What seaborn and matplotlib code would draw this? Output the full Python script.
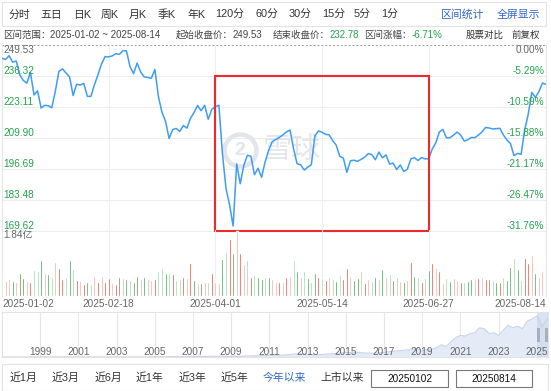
import numpy as np
import pandas as pd
import matplotlib
import matplotlib.pyplot as plt
from matplotlib.patches import Rectangle
from matplotlib.transforms import blended_transform_factory
import seaborn as sns

sns.set_style('white')
plt.rcParams['font.family'] = ['Liberation Sans', 'Noto Sans CJK SC', 'DejaVu Sans']

# 收盘价（2025-01-02 ~ 2025-08-14，逐日）
close = [
    243.85, 243.36, 245.00, 242.21, 242.70, 236.85, 234.40, 233.28, 237.87, 228.26,
    229.98, 222.64, 223.83, 223.66, 222.78, 229.86, 238.26, 239.36, 237.59, 236.00,
    228.01, 232.80, 232.47, 233.22, 227.63, 227.65, 232.62, 236.87, 241.53, 244.60,
    244.47, 244.87, 245.83, 245.55, 247.10, 247.04, 240.36, 237.30, 241.84,
    238.03, 235.93, 235.74, 235.33, 239.07, 227.48, 220.84, 216.98, 209.68, 213.49,
    214.00, 212.69, 215.24, 214.10, 218.27, 220.73, 223.75, 221.53, 223.85, 217.90, 222.13,
    223.19, 223.89, 203.19, 188.38, 181.46, 172.42, 198.85, 190.42, 198.15, 202.52,
    202.14, 194.27, 196.98, 193.16, 199.74, 204.60, 208.37, 209.28, 210.14, 211.21, 212.50,
    213.32, 205.35, 198.89, 198.51, 196.25, 197.49, 198.53, 210.79, 212.93, 212.33,
    211.45, 211.26, 208.78, 206.86, 202.09, 201.36, 195.27, 200.21, 200.42, 199.95, 200.85,
    201.70, 203.27, 202.82, 200.63, 203.92, 201.45, 202.67, 198.78, 199.20, 196.45,
    198.42, 195.64, 196.58, 201.00, 201.50, 200.30, 201.56, 201.00, 201.08, 205.17,
    207.82, 212.44, 213.55, 209.95, 210.01, 211.14, 212.41, 211.16, 208.62, 209.11,
    210.16, 210.02, 211.18, 212.48, 214.40, 214.15, 213.76, 213.88, 214.05, 211.27,
    209.05, 207.57,
    202.38, 203.35, 202.92, 213.25, 220.03, 229.35, 227.18, 229.65, 233.33, 232.78,
]

# 成交量（百万股）
volume = [
    57, 42, 47, 42, 38, 63, 51, 42, 40, 72, 70, 99, 65, 61, 54, 96, 78, 47, 54, 101,
    75, 45, 42, 33, 40, 33, 56, 40, 56, 40, 51, 36, 33, 52, 51, 47, 45, 40, 57, 48,
    54, 47, 45, 47, 71, 78, 63, 63, 61, 45, 47, 54,
    50, 93, 45, 36, 36, 38, 40, 65, 38, 36, 103, 124, 160, 120, 180, 121, 89, 100,
    52, 59, 52, 48, 52, 52, 48, 38, 38, 38, 52, 57, 100, 70, 52, 70, 50, 38, 65, 52,
    50, 45, 54, 48, 43, 59, 48, 78, 57, 45, 51, 71, 36,
    48, 43, 54, 48, 74, 54, 62, 45, 52, 43, 40, 45, 96, 57, 54, 40, 50, 73, 91, 79,
    70, 36, 50, 43, 50, 45, 40, 40, 42, 48, 48, 50, 52, 48, 48, 45, 40, 38, 52, 45,
    82, 105, 75, 45, 107, 91, 113, 63, 54, 70, 52,
]

# 柱子颜色：R 深红 r 浅红 G 深绿 g 浅绿
bar_codes = list(
    'GrrGrGRgRggGrGgrRRgGgRrRGgrRrRRrRGrGgGRgGrrRggGgRggR'
    'rRGrGrgRrrGgRGrRrgRgGGrGrrRrRrgGrgGgGRgRgrGgRRrGGrR'
    'rgGrGrgRgrGrRGgRgGRrRrgGrrRgGGgRrRGgGRgGGgGgRRrGrrr'
)
bar_palette = {'R': '#e8391f', 'r': '#f2a292', 'G': '#1f9d3d', 'g': '#8fd3a0'}

# 坐标刻度
price_ticks = [249.53, 236.32, 223.11, 209.90, 196.69, 183.48, 170.27]
price_labels = ['249.53', '236.32', '223.11', '209.90', '196.69', '183.48', '169.62']
pct_labels = ['0.00%', '-5.29%', '-10.59%', '-15.88%', '-21.17%', '-26.47%', '-31.76%']
date_ticks = [0, 30, 60, 90, 120, 153]
date_labels = ['2025-01-02', '2025-02-18', '2025-04-01', '2025-05-14', '2025-06-27', '2025-08-14']
vol_max = 184
vol_label = '1.84亿'

# 缩略导航图（上市以来）
nav_t = [1997.0, 1997.5, 1998.0, 1998.5, 1999.0, 1999.5, 2000.0, 2000.25, 2000.75, 2001.0,
         2001.5, 2002.0, 2002.5, 2003.0, 2003.5, 2004.0, 2004.5, 2005.0, 2005.5, 2006.0,
         2006.5, 2007.0, 2007.5, 2008.0, 2008.5, 2009.0, 2009.5, 2010.0, 2010.5, 2011.0,
         2011.5, 2012.0, 2012.25, 2012.75, 2013.0, 2013.5, 2014.0, 2014.5, 2015.0, 2015.5,
         2016.0, 2016.5, 2017.0, 2017.5, 2018.0, 2018.5, 2018.75, 2019.0, 2019.25, 2019.5,
         2019.75, 2020.0, 2020.25, 2020.5, 2020.75, 2021.0, 2021.25, 2021.5, 2021.75, 2022.0,
         2022.25, 2022.5, 2022.75, 2023.0, 2023.25, 2023.5, 2023.75, 2024.0, 2024.25, 2024.5,
         2024.75, 2025.0, 2025.1, 2025.27, 2025.4, 2025.59]
nav_v = [0.12, 0.12, 0.15, 0.25, 0.35, 0.5, 0.8, 1.0, 0.4, 0.3,
         0.35, 0.35, 0.25, 0.22, 0.3, 0.35, 0.5, 1.0, 1.1, 2.3,
         1.8, 2.5, 3.8, 4.0, 5.0, 2.8, 4.3, 6.5, 8.0, 10.0,
         10.5, 13.0, 18.0, 20.0, 16.0, 12.5, 17.0, 21.0, 27.0, 28.0,
         24.0, 22.5, 28.0, 35.0, 40.0, 45.0, 52.0, 37.0, 45.0, 48.0,
         55.0, 73.0, 62.0, 90.0, 115.0, 130.0, 125.0, 140.0, 145.0, 175.0,
         170.0, 140.0, 145.0, 130.0, 160.0, 190.0, 175.0, 185.0, 170.0, 215.0,
         228.0, 245.0, 235.0, 180.0, 205.0, 230.0]
nav_years = [1999, 2001, 2003, 2005, 2007, 2009, 2011, 2013, 2015, 2017, 2019, 2021, 2023, 2025]
sel_start, sel_end = 2025.0, 2025.59

toolbar_items = ['分时', '五日', '日K', '周K', '月K', '季K', '年K', '120分', '60分',
                 '30分', '15分', '5分', '1分']
toolbar_links = ['区间统计', '全屏显示']
range_buttons = ['近1月', '近3月', '近6月', '近1年', '近3年', '近5年', '今年以来', '上市以来']
range_inputs = ['20250102', '20250814']

W, H = 551, 391
GREEN = '#22a24a'
GRAY = '#666666'
DARK = '#444444'


def box(x0, y0, x1, y1):
    return [x0 / W, 1 - y1 / H, (x1 - x0) / W, (y1 - y0) / H]


def frame(x0, y0, x1, y1, ec='#e3e3e3'):
    fig.patches.append(Rectangle((x0 / W, 1 - y1 / H), (x1 - x0) / W, (y1 - y0) / H,
                                 transform=fig.transFigure, fill=False, ec=ec, lw=0.8))


fig = plt.figure(figsize=(W / 100, H / 100), dpi=100)
n = len(close)

# 整图文字层
axf = fig.add_axes([0, 0, 1, 1])
axf.set_axis_off()
axf.set_xlim(0, W)
axf.set_ylim(H, 0)


def chain(x, y, parts):
    prev = axf.text(x, y, parts[0][0], ha='left', va='center',
                    fontsize=parts[0][2], color=parts[0][1])
    for t, c, fs in parts[1:]:
        prev = axf.annotate(t, xy=(1, 0.5), xycoords=prev, ha='left', va='center',
                            fontsize=fs, color=c)


# 顶部工具栏
frame(2, 2, 546, 26)
tb_x = [19, 51, 82, 110, 138, 167, 197, 230, 267, 300, 334, 362, 390]
for x, t in zip(tb_x, toolbar_items):
    axf.text(x, 15, t, ha='center', va='center', fontsize=7.8, color='#333333')
for x, t in zip([463, 518], toolbar_links):
    axf.text(x, 15, t, ha='center', va='center', fontsize=7.8, color='#2f66cc')

# 区间信息
cj = 6.8
chain(3, 35, [('区间范围：', DARK, cj), ('2025-01-02 ~ 2025-08-14', DARK, 7.0)])
chain(176, 35, [('起始收盘价：', DARK, cj), ('249.53', DARK, 7.0)])
chain(273, 35, [('结束收盘价：', DARK, cj), ('232.78', GREEN, 7.0)])
chain(364, 35, [('区间涨幅：', DARK, cj), ('-6.71%', GREEN, 7.0)])
axf.text(466, 35, '股票对比', ha='left', va='center', fontsize=cj, color='#333333')
axf.text(540, 35, '前复权', ha='right', va='center', fontsize=cj, color='#333333')

# 价格走势
ax = fig.add_axes(box(2, 45, 546, 231))
df = pd.DataFrame({'i': np.arange(n), 'close': close})
sns.lineplot(data=df, x='i', y='close', ax=ax, color='#3f9cf6', lw=1.1, zorder=3)
ax.set_xlim(0, n - 1)
ax.set_ylim(price_ticks[-1], price_ticks[0])
ax.set_xticks([])
ax.set_yticks([])
ax.set_xlabel('')
ax.set_ylabel('')
for s in ['top', 'bottom']:
    ax.spines[s].set_visible(False)
for s in ['left', 'right']:
    ax.spines[s].set_color('#e6e6e6')
    ax.spines[s].set_linewidth(0.8)
for v in price_ticks[1:]:
    ax.axhline(v, color='#ededed', lw=0.8, zorder=0, clip_on=False)
ax.axhline(price_ticks[0], color='#9a9a9a', lw=0.7, ls=(0, (2, 2)), clip_on=False)
for t in date_ticks[1:-1]:
    ax.axvline(t, color='#eceff3', lw=0.8, zorder=0)

tr = blended_transform_factory(ax.transAxes, ax.transData)
for k, (v, pl, cl) in enumerate(zip(price_ticks, price_labels, pct_labels)):
    va = 'top' if k == 0 else 'bottom'
    col = GRAY if k == 0 else GREEN
    ax.text(0.003, v, pl, transform=tr, ha='left', va=va, fontsize=7.2, color=col)
    ax.text(0.997, v, cl, transform=tr, ha='right', va=va, fontsize=7.2, color=col)

# 水印
ax.plot([0.4375], [0.435], marker='o', ms=23, mfc='none', mec='#e2e5ea', mew=3.2,
        transform=ax.transAxes, zorder=1)
ax.text(0.4375, 0.435, '2', transform=ax.transAxes, ha='center', va='center',
        fontsize=14, fontweight='bold', color='#e2e5ea', zorder=1)
ax.text(0.48, 0.435, '雪球', transform=ax.transAxes, ha='left', va='center',
        fontsize=21, color='#e2e5ea', zorder=1)

# 红框
ax.add_patch(Rectangle((date_ticks[2], price_ticks[-1]), date_ticks[4] - date_ticks[2],
                       price_ticks[1] - price_ticks[-1], fill=False, ec='#f0282a',
                       lw=1.5, clip_on=False, zorder=5))

# 成交量
axv = fig.add_axes(box(2, 230, 546, 296))
axv.patch.set_alpha(0)
vdf = pd.DataFrame({'i': np.arange(n), 'vol': volume, 'c': bar_codes})
sns.barplot(data=vdf, x='i', y='vol', hue='c', palette=bar_palette, dodge=False,
            native_scale=True, width=0.55, legend=False, errorbar=None,
            saturation=1, ax=axv)
axv.set_xlim(0, n - 1)
axv.set_ylim(0, vol_max)
axv.set_yticks([])
axv.set_xlabel('')
axv.set_ylabel('')
for s in ['top', 'bottom']:
    axv.spines[s].set_visible(False)
for s in ['left', 'right']:
    axv.spines[s].set_color('#e6e6e6')
    axv.spines[s].set_linewidth(0.8)
for t in date_ticks[1:-1]:
    axv.axvline(t, color='#eceff3', lw=0.8, zorder=0)
axv.set_xticks(date_ticks)
axv.set_xticklabels(date_labels)
axv.tick_params(axis='x', length=0, pad=2.5, labelsize=7.2, labelcolor=GRAY)
labs = axv.get_xticklabels()
labs[0].set_ha('left')
labs[-1].set_ha('right')
axv.text(0.003, 0.92, vol_label, transform=axv.transAxes, ha='left', va='center',
         fontsize=7.2, color=GRAY)

# 缩略导航
axn = fig.add_axes(box(2, 312, 548, 357))
axn.fill_between(nav_t, nav_v, color='#e4ebf6', lw=0)
sns.lineplot(x=nav_t, y=nav_v, ax=axn, color='#c6d3e9', lw=0.8)
axn.set_xlim(1997.0, 2025.59)
axn.set_ylim(0, 270)
axn.set_xticks([])
axn.set_yticks([])
for s in axn.spines.values():
    s.set_color('#e3e3e3')
    s.set_linewidth(0.8)
for yr in nav_years:
    axn.axvline(yr, color='#e6e6e6', lw=0.8, zorder=0)
    axn.text(yr, 30, str(yr), ha='center', va='center', fontsize=7.2, color=GRAY)
axn.axvspan(sel_start, sel_end, color='#cfdcf0', alpha=0.8, lw=0)
hw = 3 / 19.1
for hx in [sel_start, sel_end - hw]:
    axn.add_patch(Rectangle((hx, 90), hw, 84, color='#aab0b9', lw=0, zorder=4))

# 底部区间按钮
frame(2, 364, 548, 390.5)
btn_x = [23, 65.5, 108, 149.5, 192.5, 234.5, 284, 342]
for x, t in zip(btn_x, range_buttons):
    c = '#2f66cc' if t == '今年以来' else '#333333'
    axf.text(x, 378, t, ha='center', va='center', fontsize=7.8, color=c)
for (x0, x1), t in zip([(371, 448), (456, 532)], range_inputs):
    frame(x0, 370, x1, 387, ec='#777777')
    axf.text((x0 + x1) / 2, 378.5, t, ha='center', va='center',
             fontsize=7.2, color='#111111')

fig.savefig('out.png', dpi=100)
